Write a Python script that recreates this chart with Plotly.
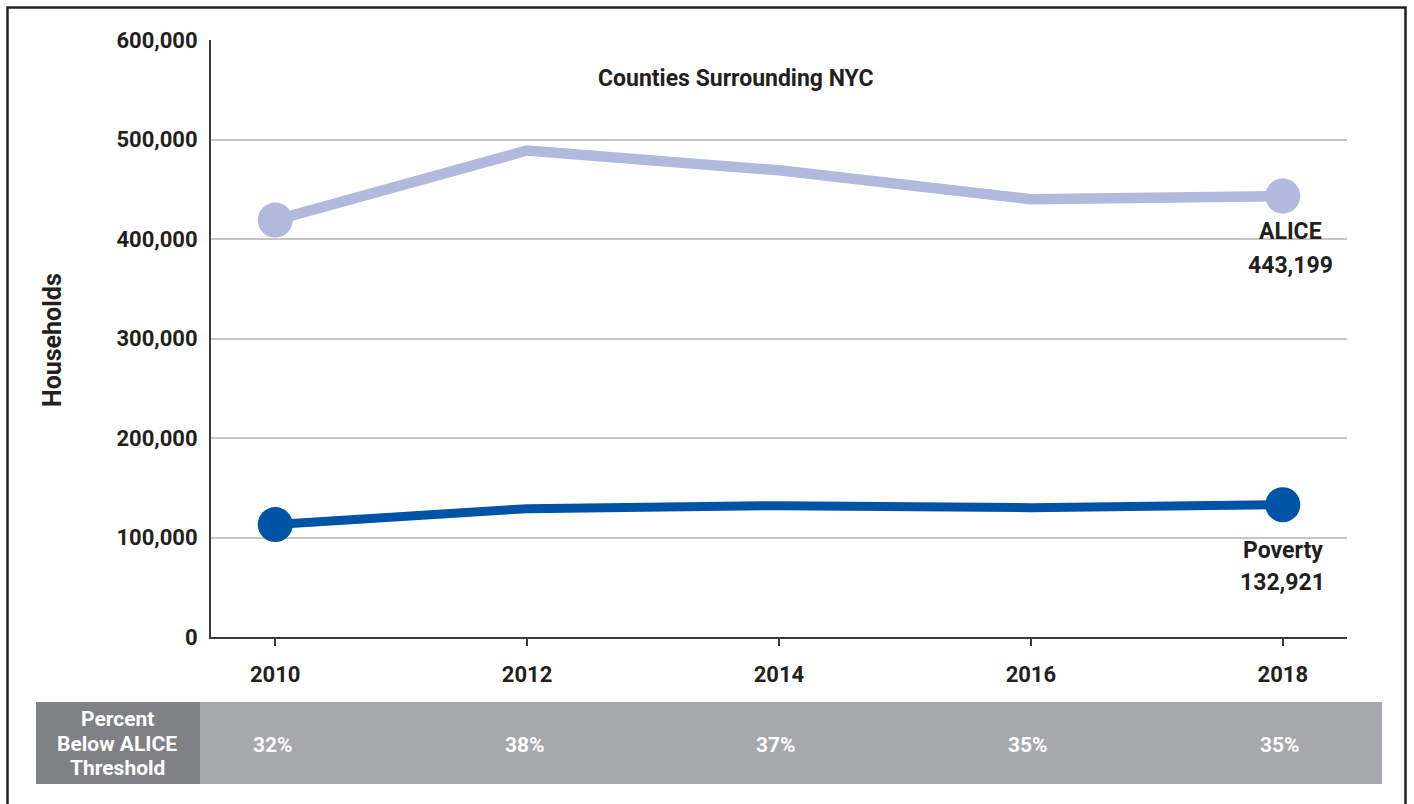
import plotly.graph_objects as go

years = [2010, 2012, 2014, 2016, 2018]
alice = [419000, 489000, 469000, 440000, 443199]
poverty = [113000, 129000, 132000, 130000, 132921]
pct_below = ["32%", "38%", "37%", "35%", "35%"]
y_ticks = [0, 100000, 200000, 300000, 400000, 500000, 600000]
y_tick_labels = ["0", "100,000", "200,000", "300,000", "400,000", "500,000", "600,000"]

ALICE_C = "#b1b9dd"
POV_C = "#0053a5"
DARK = "#231f20"
SANS = "Roboto, Arial, sans-serif"

W, H = 1414, 804
L, R, T, B = 211, 67, 40, 167
PH = H - T - B
PW = W - L - R

def px_x(x):
    return (x - L) / PW

def px_y(y):
    return (H - B - y) / PH

fig = go.Figure()
end_size = [35 if i in (0, len(years) - 1) else 0 for i in range(len(years))]
fig.add_trace(go.Scatter(x=years, y=alice, mode="lines+markers",
                         line=dict(color=ALICE_C, width=10.5),
                         marker=dict(color=ALICE_C, size=end_size, opacity=1, line=dict(width=0)),
                         hoverinfo="skip", showlegend=False))
fig.add_trace(go.Scatter(x=years, y=poverty, mode="lines+markers",
                         line=dict(color=POV_C, width=9),
                         marker=dict(color=POV_C, size=end_size, opacity=1, line=dict(width=0)),
                         hoverinfo="skip", showlegend=False))

shapes = [
    dict(type="rect", xref="paper", yref="paper", x0=px_x(7.5), x1=px_x(1405.5), y0=px_y(815), y1=px_y(7.5),
         line=dict(color=DARK, width=2.5), fillcolor="rgba(0,0,0,0)", layer="below"),
    dict(type="rect", xref="paper", yref="paper", x0=px_x(36), x1=px_x(200), y0=px_y(784), y1=px_y(702),
         line=dict(width=0), fillcolor="#808184"),
    dict(type="rect", xref="paper", yref="paper", x0=px_x(200), x1=px_x(1382), y0=px_y(784), y1=px_y(702),
         line=dict(width=0), fillcolor="#a7a8ab"),
]

def note(text, x, y, size, color=DARK, xref="paper", angle=0):
    return dict(text=text, xref=xref, yref="paper", x=x, y=y, xanchor="center", yanchor="middle",
                showarrow=False, textangle=angle,
                font=dict(family=SANS, size=size, color=color, weight="bold"))

annotations = [
    note("Counties Surrounding NYC", px_x(736), px_y(79), 23),
    note("ALICE", years[-1] + 0.06, px_y(232), 23, xref="x"),
    note("443,199", years[-1] + 0.06, px_y(265), 23, xref="x"),
    note("Poverty", years[-1], px_y(550), 23, xref="x"),
    note("132,921", years[-1], px_y(582), 23, xref="x"),
    note("Households", px_x(52), px_y(340), 25, angle=-90),
]
for txt, yy in zip(["Percent", "Below ALICE", "Threshold"], [719, 744, 768]):
    annotations.append(note(txt, px_x(117), px_y(yy), 21, color="white"))
for yr, p in zip(years, pct_below):
    annotations.append(note(p, yr - 0.02, px_y(745), 21, color="white", xref="x"))

fig.update_layout(
    width=W, height=H,
    margin=dict(l=L, r=R, t=T, b=B, autoexpand=False),
    paper_bgcolor="white", plot_bgcolor="white",
    shapes=shapes, annotations=annotations,
    showlegend=False,
    xaxis=dict(range=[2009.49, 2018.51], tickmode="array", tickvals=years,
               ticktext=[str(y) for y in years],
               showgrid=False, zeroline=False, showline=True, linecolor="#3a3a3a", linewidth=2,
               ticks="outside", ticklen=7, tickwidth=2, tickcolor="#3a3a3a", ticklabelstandoff=10,
               tickfont=dict(family=SANS, size=22, color=DARK, weight="bold")),
    yaxis=dict(range=[0, 600000], tickmode="array", tickvals=y_ticks, ticktext=y_tick_labels,
               showgrid=True, gridcolor="#c6c6c6", gridwidth=1.5, zeroline=False,
               showline=True, linecolor="#3a3a3a", linewidth=2, ticks="", ticklabelstandoff=7,
               tickfont=dict(family=SANS, size=22, color=DARK, weight="bold")),
)

fig.write_html("out.html", config={"displayModeBar": False},
               post_script="document.body.style.margin='0';document.body.style.overflow='hidden';")
